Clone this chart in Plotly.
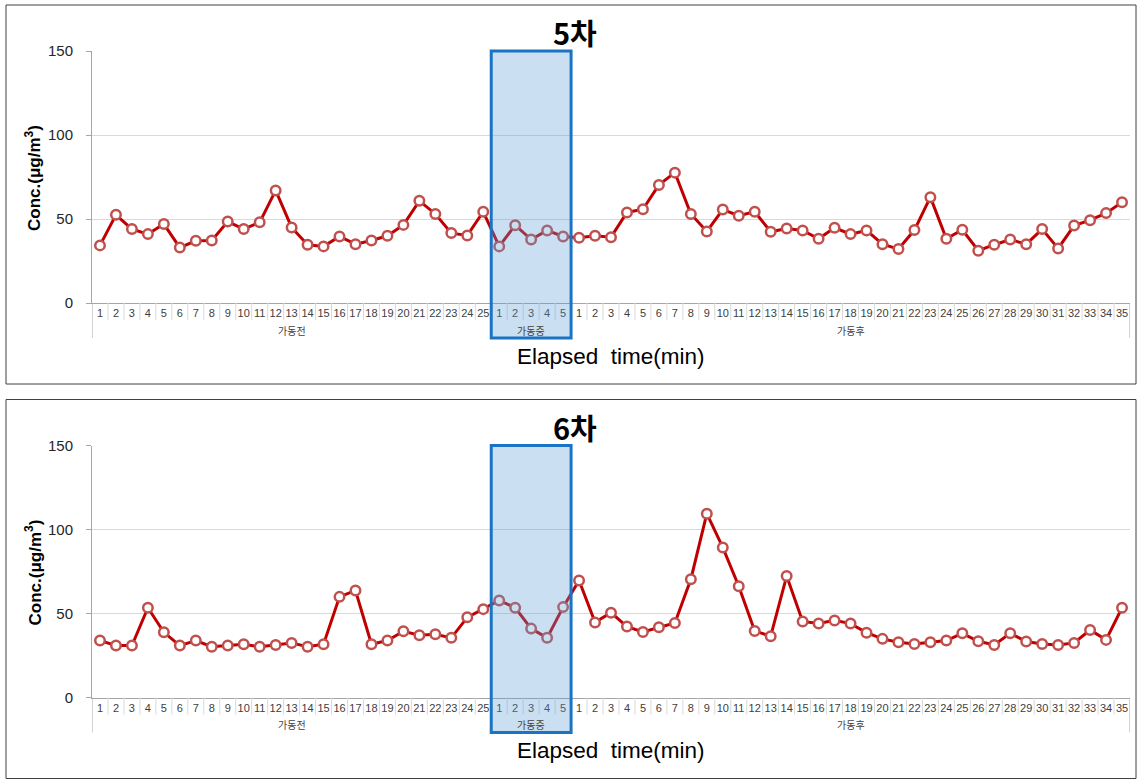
import plotly.graph_objects as go

# ---------------- data ----------------
groups = ["가동전", "가동중", "가동후"]
group_sizes = [25, 5, 35]
tick_labels = [str(i) for n in group_sizes for i in range(1, n + 1)]
panel_titles = ["5차", "6차"]
y_ticks = [0, 50, 100, 150]
x_title = "Elapsed  time(min)"
y_title = "Conc.(μg/m<sup>3</sup>)"

conc_5 = [34.3, 52.5, 44, 41, 47, 33, 37, 37.2, 48.5, 44,
          48, 67, 45, 34.7, 33.7, 39.6, 35, 37.2, 40, 46.5,
          60.8, 53, 41.6, 40.2, 54.3,
          33.7, 46.3, 37.8, 43.2, 39.6,
          38.8, 40, 39.2, 53.9, 55.8, 70.3, 77.6, 53, 42.6, 55.6,
          52, 54.3, 42.4, 44.4, 43.2, 38.2, 44.8, 41, 43.2, 35,
          32.1, 43.4, 63, 38.2, 43.6, 31.1, 34.7, 37.8, 35, 44,
          32.5, 46.1, 49.3, 53.5, 60]

conc_6 = [33.9, 30.9, 30.9, 53.4, 38.8, 30.9, 33.9, 30.2, 30.9, 31.7,
          30.2, 31.3, 32.5, 30.2, 31.7, 59.9, 63.7, 31.7, 33.9, 39.4,
          37.1, 37.6, 35.5, 47.7, 52.6,
          57.8, 53.4, 41, 35.5, 53.8,
          69.6, 44.7, 50.5, 42.2, 39, 41.8, 44.4, 70.4, 109.4, 89.3,
          66.2, 39.6, 36.5, 72.3, 45.3, 44, 45.9, 44, 38.6, 34.9,
          32.9, 31.9, 32.9, 33.9, 38.2, 33.5, 31.3, 38.2, 33.3, 31.9,
          31.3, 32.5, 40.2, 34.3, 53.4]

series = [conc_5, conc_6]

# ---------------- layout helpers ----------------
W, H = 1138, 779
def px(x):
    return x / W
def py(y):
    return 1 - y / H

LINE_RED = "#c00000"
MARK_RED = "#c0504d"
AXIS_GRAY = "#a6a6a6"
GRID_GRAY = "#d9d9d9"
BLUE_LINE = "#1b74c3"
BLUE_FILL = "rgba(91,155,213,0.32)"
FONT_NUM = "Liberation Sans"
FONT_KR = "Noto Sans CJK KR"

PLOT_L, PLOT_R = 92, 1130
offsets = [0, 394.5]

fig = go.Figure()
shapes = []
annotations = []

n = len(tick_labels)
x_idx = list(range(n))
bounds = []
acc = 0
for s in group_sizes:
    bounds.append((acc, acc + s))
    acc += s

for p, (vals, title, dy) in enumerate(zip(series, panel_titles, offsets)):
    sfx = "" if p == 0 else str(p + 1)
    xa, ya = "x" + sfx, "y" + sfx
    top, bot = 51 + dy, 303 + dy
    fig.add_trace(go.Scatter(
        x=x_idx, y=vals, mode="lines+markers", xaxis=xa, yaxis=ya,
        line=dict(color=LINE_RED, width=3),
        marker=dict(symbol="circle", size=9.5, color="white",
                    line=dict(color=MARK_RED, width=2.5)),
        hoverinfo="skip", showlegend=False, cliponaxis=False))

    fig.update_layout({
        "xaxis" + sfx: dict(
            domain=[px(PLOT_L), px(PLOT_R)], range=[-0.5, n - 0.5],
            anchor=ya, tickmode="array", tickvals=x_idx, ticktext=tick_labels,
            tickangle=0, ticks="", showgrid=False, zeroline=False,
            showline=True, linecolor=AXIS_GRAY, linewidth=1,
            tickfont=dict(family=FONT_NUM, size=11, color="#404040"),
            automargin=False, fixedrange=True),
        "yaxis" + sfx: dict(
            domain=[py(bot), py(top)], range=[0, 150], anchor=xa,
            tickvals=y_ticks, ticks="outside", ticklen=5, tickcolor=AXIS_GRAY,
            showgrid=True, gridcolor=GRID_GRAY, gridwidth=1, zeroline=False,
            showline=True, linecolor=AXIS_GRAY, linewidth=1,
            ticklabelstandoff=10,
            tickfont=dict(family=FONT_NUM, size=15, color="#262626"),
            automargin=False, fixedrange=True),
    })

    # panel frame
    shapes.append(dict(type="rect", xref="paper", yref="paper",
                       x0=px(6), x1=px(1136), y0=py(384 + dy), y1=py(5 + dy),
                       line=dict(color="#404040", width=1), layer="below"))
    # category separators in the number row
    for i in range(n + 1):
        b = i - 0.5
        is_group = any(b == g[0] - 0.5 for g in bounds) or b == n - 0.5
        y_end = 338 if is_group else 320
        shapes.append(dict(type="line", xref=xa, yref="paper",
                           x0=b, x1=b, y0=py(bot), y1=py(y_end + dy),
                           line=dict(color=AXIS_GRAY if is_group else GRID_GRAY, width=1)))
    # group labels
    for g, (a, b) in zip(groups, bounds):
        annotations.append(dict(text=g, xref=xa, yref="paper",
                                x=(a + b - 1) / 2, y=py(330 + dy),
                                showarrow=False, xanchor="center", yanchor="middle",
                                font=dict(family=FONT_KR, size=10, color="#404040")))
    # highlight box on the middle group
    a, b = bounds[1]
    shapes.append(dict(type="rect", xref=xa, yref="paper",
                       x0=a - 0.5, x1=b - 0.5, y0=py(338 + dy), y1=py(top),
                       fillcolor=BLUE_FILL, line=dict(color=BLUE_LINE, width=3),
                       layer="above"))
    # titles
    annotations.append(dict(text="<b>" + title + "</b>", xref="paper", yref="paper",
                            x=px(575), y=py(32 + dy), showarrow=False,
                            xanchor="center", yanchor="middle",
                            font=dict(family=FONT_KR, size=29, color="black")))
    annotations.append(dict(text=x_title, xref="paper", yref="paper",
                            x=px(611), y=py(356 + dy), showarrow=False,
                            xanchor="center", yanchor="middle",
                            font=dict(family=FONT_NUM, size=22.5, color="black")))
    annotations.append(dict(text="<b>" + y_title + "</b>", xref="paper", yref="paper",
                            x=px(33), y=py(178 + dy), showarrow=False, textangle=-90,
                            xanchor="center", yanchor="middle",
                            font=dict(family=FONT_NUM, size=17, color="black")))

fig.update_layout(
    width=W, height=H, autosize=False,
    margin=dict(l=0, r=0, t=0, b=0, pad=0, autoexpand=False),
    paper_bgcolor="white", plot_bgcolor="white",
    shapes=shapes, annotations=annotations, showlegend=False,
)

post = ("document.documentElement.style.margin='0';"
        "document.documentElement.style.padding='0';"
        "document.documentElement.style.overflow='hidden';"
        "document.body.style.margin='0';document.body.style.padding='0';"
        "document.body.style.overflow='hidden';"
        "var gd=document.getElementById('{plot_id}');"
        "gd.style.position='absolute';gd.style.left='0px';gd.style.top='0px';")

fig.write_html("out.html", config={"displayModeBar": False}, post_script=post)
